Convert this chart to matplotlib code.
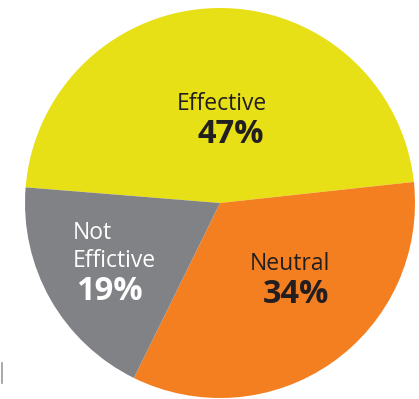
import matplotlib.pyplot as plt
from matplotlib.lines import Line2D

# survey result shares (percent)
categories = ["Effective", "Neutral", "Not\nEffictive"]
shares = [47, 34, 19]
colors = ["#E8E017", "#F47F20", "#818285"]
text_colors = ["#231F20", "#231F20", "#FFFFFF"]

# label anchors in pie units (radius = 1), left edge / baseline of last line
name_pos = [(-0.22, 0.477), (0.154, -0.344), (-0.754, -0.328)]
pct_pos = [(-0.113, 0.31), (0.22, -0.513), (-0.737, -0.497)]

W, H = 419, 399
cx, cy, r = 220, 203, 195

fig = plt.figure(figsize=(W / 100, H / 100), dpi=100)
ax = fig.add_axes([0, 0, 1, 1])

ax.pie(
    shares,
    colors=colors,
    startangle=175.4,
    counterclock=False,
    radius=1,
    wedgeprops=dict(linewidth=0),
)
ax.set_aspect("auto")
ax.set_xlim(-cx / r, (W - cx) / r)
ax.set_ylim(-(H - cy) / r, cy / r)
ax.axis("off")

font = ["Open Sans", "DejaVu Sans"]
for name, v, tc, (nx, ny), (px, py) in zip(categories, shares, text_colors, name_pos, pct_pos):
    ax.text(nx, ny, name, ha="left", va="baseline", fontsize=16.5,
            color=tc, family=font, linespacing=1.22)
    ax.text(px, py, f"{v}%", ha="left", va="baseline", fontsize=23.5,
            fontweight="bold", color=tc, family=font)

# thin tick at the lower-left edge
fig.add_artist(Line2D([1.5 / W, 1.5 / W], [1 - 363 / H, 1 - 383 / H],
                      color="#9A9A9A", linewidth=1.2))

fig.savefig("out.png", dpi=100)
